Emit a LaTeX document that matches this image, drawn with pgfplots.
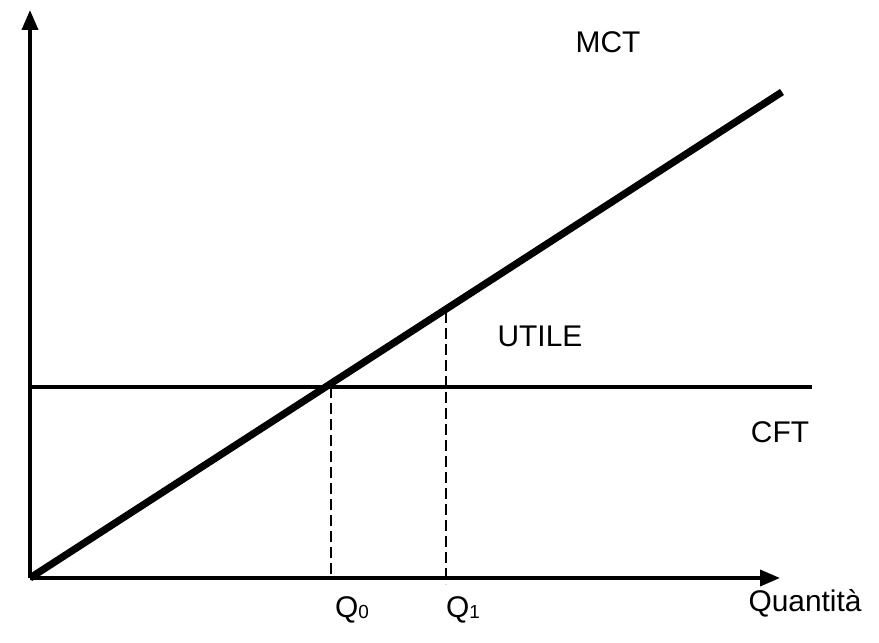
\documentclass[border=0pt]{standalone}
\usepackage{pgfplots}
\pgfplotsset{compat=1.18}
\usepackage{fontspec}
\setmainfont{Liberation Sans}
\usetikzlibrary{arrows.meta}
\newcommand{\lab}{\fontsize{15}{17}\selectfont}
\newcommand{\sub}[1]{{\fontsize{9.5}{10}\selectfont\raisebox{-0.5bp}{#1}}}
\begin{document}
\begin{tikzpicture}
\begin{axis}[
  scale only axis, width=439.5bp, height=321.5bp,
  xmin=0, xmax=879, ymin=0, ymax=643,
  axis lines=none, clip=false,
]
% axes
\addplot[black, line width=1.8bp, -{Triangle[length=10bp,width=8bp]}] coordinates {(30,65) (30,633)};
\addplot[black, line width=1.8bp, -{Triangle[length=10bp,width=8bp]}] coordinates {(30,65) (780,65)};
% CFT
\addplot[black, line width=1.6bp] coordinates {(30,256) (812,256)};
% dashed
\addplot[black, line width=1.2bp, dash pattern=on 5.5bp off 2.5bp] coordinates {(331,256) (331,65)};
\addplot[black, line width=1.2bp, dash pattern=on 5.5bp off 2.5bp] coordinates {(446,331) (446,59)};
% MCT
\addplot[black, line width=3.6bp] coordinates {(30,65) (782,551)};
\node[font=\lab] at (axis cs:608,601) {MCT};
\node[font=\lab] at (axis cs:540,307) {UTILE};
\node[font=\lab] at (axis cs:780,211) {CFT};
\node[font=\lab] at (axis cs:352,33) {Q\sub{0}};
\node[font=\lab] at (axis cs:463,33) {Q\sub{1}};
\node[font=\lab] at (axis cs:805,40) {Quantità};
\end{axis}
\pgfresetboundingbox
\path (current axis.south west) rectangle (current axis.north east);
\end{tikzpicture}
\end{document}
